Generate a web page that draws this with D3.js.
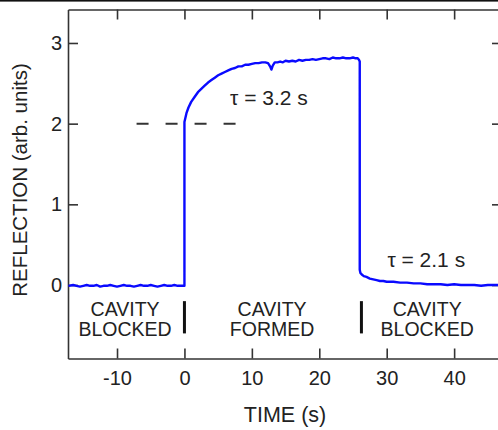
<!DOCTYPE html>
<html>
<head>
<meta charset="utf-8">
<script src="https://cdn.jsdelivr.net/npm/d3@7"></script>
<style>
  body { margin: 0; background: #fff; }
  svg { display: block; }
  text { font-family: "Liberation Sans", Arial, sans-serif; fill: #222; }
</style>
</head>
<body>
<div id="chart"></div>
<script>
// reflection trace in three pieces
var blockedTime = [-17.2,-16.5,-16,-15.5,-15,-14.5,-14,-13.5,-13,-12.5,-12,-11.5,-11,-10.5,-10,-9.5,-9,-8.5,-8,-7.5,-7,-6.5,-6,-5.5,-5,-4.5,-4,-3.5,-3,-2.5,-2,-1.5,-1,-0.5,0];
var blockedValue = [-0.01,0.00,-0.01,-0.02,-0.01,0.00,-0.01,-0.01,0.00,-0.02,-0.01,-0.01,0.00,-0.01,-0.02,-0.01,0.00,-0.01,-0.01,-0.02,-0.01,0.00,-0.01,-0.01,0.00,-0.01,-0.02,-0.01,0.00,-0.01,-0.01,0.00,-0.01,-0.01,-0.01];

var formedTime = [0,0.3,0.6,1,1.5,2,2.5,3,3.5,4,4.5,5,5.5,6,6.5,7,7.5,8,8.5,9,9.5,10,10.5,11,11.5,12,12.4,12.7,12.9,13.1,13.4,13.8,14.2,14.6,15,15.5,16,16.5,17,17.5,18,18.5,19,19.5,20,20.5,21,21.5,22,22.5,23,23.5,24,24.5,25,25.4,25.7,25.9,26.0];
var formedValue = [2.02,2.13,2.20,2.27,2.33,2.39,2.43,2.47,2.51,2.54,2.57,2.60,2.62,2.64,2.66,2.68,2.69,2.71,2.71,2.73,2.73,2.74,2.75,2.75,2.76,2.76,2.75,2.71,2.67,2.72,2.76,2.76,2.77,2.76,2.78,2.77,2.78,2.77,2.79,2.78,2.79,2.79,2.80,2.79,2.80,2.81,2.81,2.80,2.82,2.81,2.81,2.82,2.81,2.81,2.82,2.81,2.81,2.79,2.77];

var decayTime = [26.0,26.1,26.3,26.6,27,27.5,28,28.5,29,29.5,30,31,32,33,34,35,36,37,38,39,40,41,42,43,44,45,46,47.1];
var decayValue = [0.19,0.15,0.13,0.11,0.10,0.08,0.07,0.06,0.05,0.05,0.04,0.04,0.03,0.03,0.02,0.02,0.01,0.01,0.01,0.00,0.01,0.00,0.00,0.00,-0.01,0.00,0.00,0.00];

var xTicks = [-10, 0, 10, 20, 30, 40];
var yTicks = [0, 1, 2, 3];

var regionLines = [["CAVITY", "BLOCKED"], ["CAVITY", "FORMED"], ["CAVITY", "BLOCKED"]];
var regionCenter = [-8.8, 13.0, 36.0];
var regionSplit = [0, 26.25];

var tauText = ["\u03c4 = 3.2 s", "\u03c4 = 2.1 s"];
var tauAt = [[6.77, 2.23], [30.1, 0.22]];
var dashFrom = [-7.1, 2], dashTo = [8.0, 2];

var W = 498, H = 430;
var margin = {top: 9.5, right: -4, bottom: 71.5, left: 68};
var width = W - margin.left - margin.right;
var height = H - margin.top - margin.bottom;

var svg = d3.select("#chart")
  .append("svg")
    .attr("width", W)
    .attr("height", H);

// thin black rule at the very top of the figure
svg.append("rect")
    .attr("x", 0).attr("y", 0)
    .attr("width", W).attr("height", 1.6)
    .attr("fill", "#111");

var g = svg.append("g")
    .attr("transform", "translate(" + margin.left + "," + margin.top + ")");

var x = d3.scaleLinear().domain([-17.27, 47.1]).range([0, width]);
var y = d3.scaleLinear().domain([-0.911, 3.415]).range([height, 0]);

// plain hyphen minus, no decimals
var fmt = function(d) { return String(d); };

function styleAxis(sel) {
  sel.selectAll("path").attr("stroke", "#333").attr("stroke-width", 1.6);
  sel.selectAll("line").attr("stroke", "#333").attr("stroke-width", 1.6);
  sel.selectAll("text").attr("font-size", "20px").attr("fill", "#222")
     .attr("font-family", "Liberation Sans, Arial, sans-serif");
}

g.append("g")
    .attr("transform", "translate(0," + height + ")")
    .call(d3.axisBottom(x).tickValues(xTicks).tickFormat(fmt).tickSizeInner(-10).tickSizeOuter(0).tickPadding(12))
    .call(styleAxis);
g.append("g")
    .call(d3.axisTop(x).tickValues(xTicks).tickSizeInner(-10).tickSizeOuter(0).tickFormat(""))
    .call(styleAxis);
g.append("g")
    .call(d3.axisLeft(y).tickValues(yTicks).tickFormat(fmt).tickSizeInner(-10).tickSizeOuter(0).tickPadding(6))
    .call(styleAxis);
g.append("g")
    .attr("transform", "translate(" + width + ",0)")
    .call(d3.axisRight(y).tickValues(yTicks).tickSizeInner(-10).tickSizeOuter(0).tickFormat(""))
    .call(styleAxis);

// dashed guide at the jump height
g.append("line")
    .attr("x1", x(dashFrom[0])).attr("y1", y(dashFrom[1]))
    .attr("x2", x(dashTo[0])).attr("y2", y(dashTo[1]))
    .attr("stroke", "#333").attr("stroke-width", 2)
    .attr("stroke-dasharray", "12,17");

// the trace
var trace = [];
blockedTime.forEach(function(t, i) { trace.push([t, blockedValue[i]]); });
formedTime.forEach(function(t, i) { trace.push([t, formedValue[i]]); });
decayTime.forEach(function(t, i) { trace.push([t, decayValue[i]]); });

g.append("path")
    .datum(trace)
    .attr("fill", "none")
    .attr("stroke", "#0a0aff")
    .attr("stroke-width", 2.4)
    .attr("stroke-linejoin", "round")
    .attr("d", d3.line()
        .x(function(d) { return x(d[0]); })
        .y(function(d) { return y(d[1]); }));

// region separators and labels
g.selectAll(".split")
    .data(regionSplit)
  .enter().append("line")
    .attr("x1", function(d) { return x(d); })
    .attr("x2", function(d) { return x(d); })
    .attr("y1", y(-0.2)).attr("y2", y(-0.6))
    .attr("stroke", "#111").attr("stroke-width", 3);

regionLines.forEach(function(lines, i) {
  var t = g.append("text")
      .attr("text-anchor", "middle")
      .attr("font-size", "19.5px")
      .attr("x", x(regionCenter[i]))
      .attr("y", y(-0.2) + 14.5);
  t.append("tspan").attr("x", x(regionCenter[i])).text(lines[0]);
  t.append("tspan").attr("x", x(regionCenter[i])).attr("dy", "20").text(lines[1]);
});

tauText.forEach(function(s, i) {
  g.append("text")
      .attr("x", x(tauAt[i][0]))
      .attr("y", y(tauAt[i][1]))
      .attr("font-size", "21px")
      .text(s);
});

// axis titles
svg.append("text")
    .attr("text-anchor", "middle")
    .attr("font-size", "21.5px")
    .attr("x", 285)
    .attr("y", 422)
    .text("TIME (s)");

svg.append("text")
    .attr("text-anchor", "middle")
    .attr("font-size", "20.5px")
    .attr("transform", "translate(27,180) rotate(-90)")
    .text("REFLECTION (arb. units)");
</script>
</body>
</html>
